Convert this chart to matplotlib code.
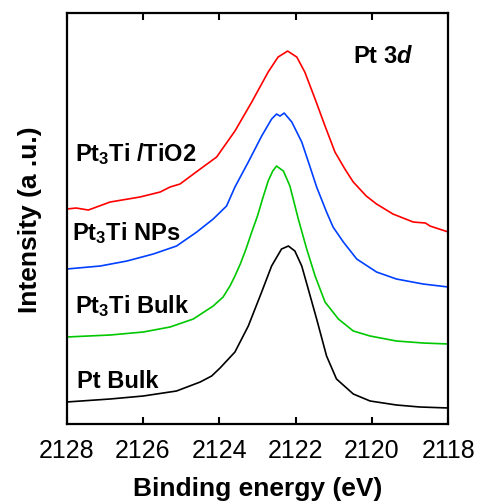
import numpy as np
import matplotlib.pyplot as plt

plt.rcParams['font.family'] = ['Liberation Sans', 'DejaVu Sans']
plt.rcParams['mathtext.fontset'] = 'custom'
plt.rcParams['mathtext.rm'] = 'Liberation Sans:bold'
plt.rcParams['mathtext.bf'] = 'Liberation Sans:bold'
plt.rcParams['mathtext.it'] = 'Liberation Sans:italic:bold'

# binding energy (eV) and intensity (a.u., offset stacked)
e_tio2 = [2128.0, 2127.75, 2127.43, 2126.86, 2126.08, 2125.55, 2125.29, 2125.03, 2124.50,
          2124.07, 2123.59, 2123.15, 2122.72, 2122.46, 2122.21, 2121.97, 2121.76, 2121.49,
          2121.23, 2120.97, 2120.71, 2120.49, 2120.15, 2119.88, 2119.45, 2118.92, 2118.6,
          2118.48, 2118.0]
i_tio2 = [215, 216, 214, 222, 227, 232, 237, 240, 255, 267, 293, 322, 352, 367, 373, 367,
          352, 325, 298, 272, 255, 242, 228, 220, 210, 202, 201, 198, 192]

e_nps = [2128.0, 2127.12, 2126.42, 2125.73, 2125.12, 2124.59, 2124.16, 2123.81, 2123.59,
         2123.24, 2122.89, 2122.63, 2122.50, 2122.41, 2122.30, 2122.10, 2121.84, 2121.63,
         2121.45, 2121.19, 2121.02, 2120.75, 2120.40, 2119.88, 2119.36, 2118.66, 2118.0]
i_nps = [155, 158, 163, 170, 178, 192, 205, 218, 237, 262, 288, 305, 310, 308, 311, 302,
         282, 258, 237, 212, 197, 182, 165, 152, 145, 140, 137]

e_bulk3 = [2128.0, 2126.86, 2125.99, 2125.29, 2124.68, 2124.16, 2123.90, 2123.72, 2123.59,
           2123.45, 2123.30, 2123.15, 2123.00, 2122.86, 2122.72, 2122.60, 2122.50, 2122.32,
           2122.15, 2121.93, 2121.71, 2121.49, 2121.23, 2120.88, 2120.49, 2120.05, 2119.36,
           2118.66, 2118.0]
i_bulk3 = [87, 89, 92, 97, 105, 118, 127, 138, 148, 160, 175, 192, 208, 226, 243, 253, 258,
           253, 238, 205, 175, 148, 122, 105, 93, 88, 83, 81, 80]

e_pt = [2128.0, 2126.86, 2125.99, 2125.12, 2124.50, 2124.20, 2123.98, 2123.59, 2123.24,
        2122.89, 2122.63, 2122.37, 2122.19, 2122.02, 2121.84, 2121.67, 2121.45, 2121.19,
        2120.93, 2120.49, 2120.05, 2119.36, 2118.75, 2118.0]
i_pt = [22, 25, 28, 33, 42, 48, 56, 72, 98, 132, 158, 175, 178, 173, 158, 135, 105, 68,
        45, 30, 23, 19, 17, 16]

labels = [r'Pt$_\mathbf{3}$Ti /TiO2', r'Pt$_\mathbf{3}$Ti NPs', r'Pt$_\mathbf{3}$Ti Bulk', 'Pt Bulk']
xticks = [2128, 2126, 2124, 2122, 2120, 2118]

fig = plt.figure(figsize=(4.79, 5.02), dpi=100)
ax = fig.add_axes([0.139, 0.1534, 0.797, 0.8186])

ax.plot(e_tio2, i_tio2, color='#ff0000', lw=1.2)
ax.plot(e_nps, i_nps, color='#0040ff', lw=1.2)
ax.plot(e_bulk3, i_bulk3, color='#00c800', lw=1.2)
ax.plot(e_pt, i_pt, color='black', lw=1.2)

lab_y = [264, 185, 112, 37]
lab_x = [2127.78, 2127.86, 2127.78, 2127.73]
for x, y, s in zip(lab_x, lab_y, labels):
    ax.text(x, y, s, fontsize=17, fontweight='bold', ha='left', va='baseline')
ax.text(2120.5, 362, r'Pt 3$\mathit{d}$', fontsize=17, fontweight='bold',
        ha='left', va='baseline')

ax.set_xlim(2128, 2118)
ax.set_ylim(0, 411)
ax.set_xticks(xticks)
ax.set_yticks([])
ax.tick_params(axis='x', direction='in', top=True, length=5, width=1.5,
               labelsize=18, pad=10)
for sp in ax.spines.values():
    sp.set_linewidth(1.6)

ax.set_xlabel('Binding energy (eV)', fontsize=19, fontweight='bold', labelpad=10)
ax.set_ylabel('Intensity (a .u.)', fontsize=19, fontweight='bold', labelpad=18)

plt.savefig('out.png', dpi=100)
